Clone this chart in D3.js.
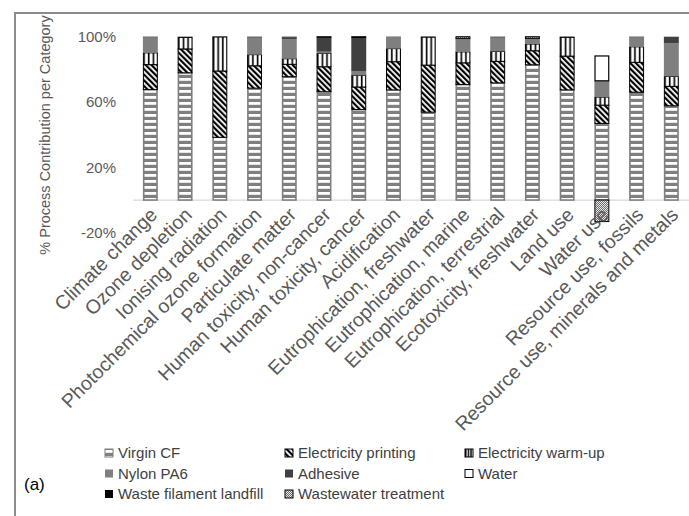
<!DOCTYPE html>
<html>
<head>
<meta charset="utf-8">
<script src="https://cdn.jsdelivr.net/npm/d3@7"></script>
<style>
  html, body { margin: 0; padding: 0; background: #fff; }
  svg { display: block; font-family: "Liberation Sans", Arial, sans-serif; }
</style>
</head>
<body>
<svg id="chart" width="689" height="516"></svg>
<script>
// Impact categories along the x axis
const categories = [
  "Climate change", "Ozone depletion", "Ionising radiation",
  "Photochemical ozone formation", "Particulate matter",
  "Human toxicity, non-cancer", "Human toxicity, cancer", "Acidification",
  "Eutrophication, freshwater", "Eutrophication, marine",
  "Eutrophication, terrestrial", "Ecotoxicity, freshwater", "Land use",
  "Water use", "Resource use, fossils", "Resource use, minerals and metals"
];

// Process shares (%) per category
const virginCF     = [67.6, 77.9, 38.4, 68.5, 75.5, 66.3, 55.4, 67.4, 53.8, 70.7, 71.7, 82.8, 67.4, 46.9, 66.0, 57.7];
const elecPrinting = [15.3, 14.6, 40.6, 13.7, 7.6, 15.3, 13.8, 17.3, 28.8, 13.3, 13.2, 8.6, 20.7, 11.2, 18.3, 11.9];
const elecWarmup   = [7.2, 7.0, 20.8, 6.8, 3.4, 8.2, 7.2, 8.0, 17.1, 6.7, 6.1, 4.1, 11.5, 4.9, 9.5, 6.1];
const nylonPA6     = [9.6, 0, 0, 10.6, 12.0, 1.0, 2.3, 7.1, 0, 7.8, 8.6, 3.2, 0, 10.0, 5.9, 20.2];
const adhesive     = [0, 0.2, 0, 0, 1.2, 8.8, 20.8, 0, 0, 0, 0, 0, 0, 0, 0, 4.1];
const water        = [0, 0, 0, 0, 0, 0, 0, 0, 0, 0, 0, 0, 0, 15.2, 0, 0];
const landfill     = [0.3, 0.3, 0.2, 0.4, 0.3, 0, 0, 0.2, 0.3, 0.5, 0.4, 0.3, 0.4, 0, 0.3, 0];
const wastewater   = [0, 0, 0, 0, 0, 0.4, 0.5, 0, 0, 1.0, 0, 1.0, 0, -13.2, 0, 0];

const seriesNames = [
  "Virgin CF", "Electricity printing", "Electricity warm-up",
  "Nylon PA6", "Adhesive", "Water",
  "Waste filament landfill", "Wastewater treatment"
];
const seriesValues = [virginCF, elecPrinting, elecWarmup, nylonPA6, adhesive, water, landfill, wastewater];

const yTicks = [-20, 20, 60, 100];

// ---- build table for d3.stack ----
const table = categories.map((c, i) => {
  const row = { category: c };
  seriesNames.forEach((s, k) => row[s] = seriesValues[k][i]);
  return row;
});

const svg = d3.select("#chart");
const defs = svg.append("defs");

// Fill patterns
const pVirgin = defs.append("pattern").attr("id", "p-virgin")
  .attr("patternUnits", "userSpaceOnUse").attr("width", 8).attr("height", 6);
pVirgin.append("rect").attr("width", 8).attr("height", 6).attr("fill", "#7f7f7f");
pVirgin.append("rect").attr("y", 0).attr("width", 8).attr("height", 2.8).attr("fill", "#fff");

const pPrint = defs.append("pattern").attr("id", "p-print")
  .attr("patternUnits", "userSpaceOnUse").attr("width", 4).attr("height", 4)
  .attr("patternTransform", "rotate(-45)");
pPrint.append("rect").attr("width", 4).attr("height", 4).attr("fill", "#fff");
pPrint.append("rect").attr("width", 2.2).attr("height", 4).attr("fill", "#000");

const pWarm = defs.append("pattern").attr("id", "p-warm")
  .attr("patternUnits", "objectBoundingBox").attr("width", 1 / 3).attr("height", 1);
pWarm.append("rect").attr("width", 10).attr("height", 2000).attr("fill", "#000");
pWarm.append("rect").attr("x", 1.5).attr("width", 3).attr("height", 2000).attr("fill", "#fff");

const pWaste = defs.append("pattern").attr("id", "p-wastewater")
  .attr("patternUnits", "userSpaceOnUse").attr("width", 2).attr("height", 2);
pWaste.append("rect").attr("width", 2).attr("height", 2).attr("fill", "#6e6e6e");
pWaste.append("rect").attr("width", 1).attr("height", 1).attr("fill", "#e6e6e6");
pWaste.append("rect").attr("x", 1).attr("y", 1).attr("width", 1).attr("height", 1).attr("fill", "#e6e6e6");

const styles = {
  "Virgin CF":               { fill: "url(#p-virgin)", stroke: "#7f7f7f", sw: 1.6 },
  "Electricity printing":    { fill: "url(#p-print)", stroke: "#000", sw: 1 },
  "Electricity warm-up":     { fill: "url(#p-warm)", stroke: "#000", sw: 1 },
  "Nylon PA6":               { fill: "#7f7f7f", stroke: "none", sw: 0 },
  "Adhesive":                { fill: "#404040", stroke: "none", sw: 0 },
  "Water":                   { fill: "#fff", stroke: "#000", sw: 1.2 },
  "Waste filament landfill": { fill: "#000", stroke: "none", sw: 0 },
  "Wastewater treatment":    { fill: "url(#p-wastewater)", stroke: "#000", sw: 1 }
};

// Outer frame
svg.append("rect").attr("x", 15).attr("y", 13).attr("width", 700).attr("height", 600)
  .attr("fill", "none").attr("stroke", "#8c8c8c").attr("stroke-width", 2);

// Scales
const x = d3.scaleBand().domain(categories).range([133, 688.7])
  .paddingInner(0.57).paddingOuter(0.285);
const y = d3.scaleLinear().domain([-20, 100]).range([232.7, 36.7]);

const stacked = d3.stack().keys(seriesNames).offset(d3.stackOffsetDiverging)(table);

// Zero line
svg.append("line").attr("x1", 133).attr("x2", 689).attr("y1", y(0)).attr("y2", y(0))
  .attr("stroke", "#d9d9d9").attr("stroke-width", 1.3);

// Bars
const layers = svg.append("g").selectAll("g").data(stacked).join("g");
layers.selectAll("rect")
  .data(d => d.map(v => ({ key: d.key, v })).filter(o => Math.abs(o.v[1] - o.v[0]) > 0.001))
  .join("rect")
  .attr("x", o => x(o.v.data.category) + (styles[o.key].sw / 2))
  .attr("width", o => x.bandwidth() - styles[o.key].sw)
  .attr("y", o => y(Math.max(o.v[0], o.v[1])))
  .attr("height", o => Math.abs(y(o.v[0]) - y(o.v[1])))
  .attr("fill", o => styles[o.key].fill)
  .attr("stroke", o => styles[o.key].stroke)
  .attr("stroke-width", o => styles[o.key].sw);

// Y axis labels
const textColor = "#595959";
svg.append("g").selectAll("text").data(yTicks).join("text")
  .attr("x", 116).attr("y", d => y(d)).attr("dy", "0.35em")
  .attr("text-anchor", "end").attr("fill", textColor).attr("font-size", 15)
  .text(d => d + "%");

// Y axis title
svg.append("text")
  .attr("transform", "translate(50,135) rotate(-90)")
  .attr("text-anchor", "middle").attr("fill", textColor).attr("font-size", 14.5)
  .text("% Process Contribution per Category");

// Category labels, rotated
svg.append("g").selectAll("text").data(categories).join("text")
  .attr("transform", d => `translate(${x(d) + x.bandwidth() / 2 + 8},${216}) rotate(-45)`)
  .attr("text-anchor", "end").attr("fill", textColor).attr("font-size", 19.5)
  .text(d => d);

// Legend
const legendCols = [105, 285, 465];
const legendRows = [453, 473.5, 494];
const legend = svg.append("g");
seriesNames.forEach((name, i) => {
  const cx = legendCols[i % 3], cy = legendRows[Math.floor(i / 3)];
  const st = styles[name];
  legend.append("rect").attr("x", cx).attr("y", cy - 4).attr("width", 8).attr("height", 8)
    .attr("fill", st.fill)
    .attr("stroke", st.stroke === "none" ? "none" : st.stroke).attr("stroke-width", 1);
  legend.append("text").attr("x", cx + 13).attr("y", cy).attr("dy", "0.35em")
    .attr("fill", "#404040").attr("font-size", 15).text(name);
});

// Panel tag
svg.append("text").attr("x", 24).attr("y", 484).attr("dy", "0.35em")
  .attr("fill", "#000").attr("font-size", 17).text("(a)");
</script>
</body>
</html>
